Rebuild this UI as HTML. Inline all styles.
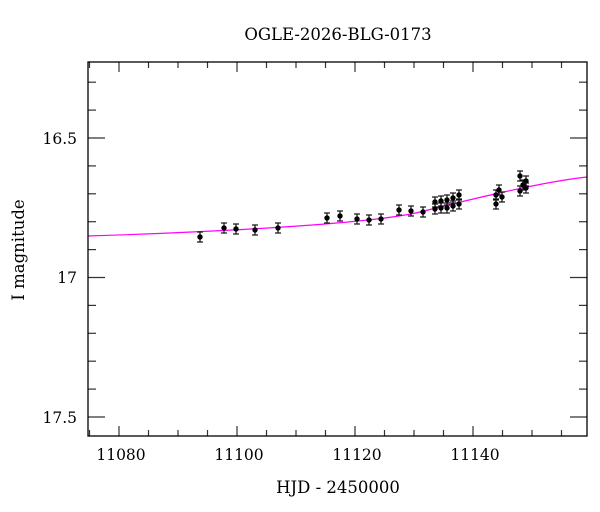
<!DOCTYPE html>
<html><head><style>body{margin:0;background:#fff}svg{display:block}text{font-family:"DejaVu Serif","Liberation Serif",serif;fill:#000}</style></head>
<body>
<svg width="600" height="512" xmlns="http://www.w3.org/2000/svg">
<text x="338" y="40" font-size="16.5" text-anchor="middle">OGLE-2026-BLG-0173</text>
<text x="338" y="493" font-size="16.5" text-anchor="middle">HJD - 2450000</text>
<text transform="translate(24,250) rotate(-90)" font-size="16.5" text-anchor="middle">I magnitude</text>
<g font-size="15.5" text-anchor="end">
<text x="77" y="144">16.5</text><text x="77" y="283">17</text><text x="77" y="423">17.5</text>
</g>
<g font-size="15.5" text-anchor="middle">
<text x="121" y="460">11080</text><text x="239" y="460">11100</text><text x="357" y="460">11120</text><text x="475" y="460">11140</text>
</g>
<g stroke="#333" stroke-width="1.2" id="ticks"></g>
<path d="M88,236 C250,231 380,222 420,212 S540,182 587,177" fill="none" stroke="#f0f" stroke-width="1.2"/>
<g id="pts" stroke="#111" stroke-width="1.2"></g>
<rect x="88" y="62" width="499" height="374" fill="none" stroke="#000" stroke-width="1.3"/>
<script>
var ns="http://www.w3.org/2000/svg",t=document.getElementById("ticks"),p=document.getElementById("pts");
function L(g,x1,y1,x2,y2){var l=document.createElementNS(ns,"line");l.setAttribute("x1",x1);l.setAttribute("y1",y1);l.setAttribute("x2",x2);l.setAttribute("y2",y2);g.appendChild(l);}
for(var d=11075;d<=11159;d+=5){var x=119+(d-11080)*5.9,len=(d%20==0)?10:6;L(t,x,436,x,436-len);L(t,x,62,x,62+len);}
for(var i=-2;i<=15;i++){var y=138+i*27.9;if(y<63||y>435)continue;var len=(i%5==0)?17:8;L(t,88,y,88+len,y);L(t,587,y,587-len,y);}
var P=[[200,237],[224,228],[236,229],[255,230],[278,228],[327,218],[340,216],[357,219],[369,220],[381,219],[399,210],[411,211],[423,212],[435,202],[435,209],[441,201],[441,208],[447,200],[447,208],[453,198],[453,206],[459,195],[459,204],[496,195],[496,204],[499,190],[502,197],[520,176],[520,191],[523,185],[526,181],[526,188]];
P.forEach(function(q){var x=q[0],y=q[1];L(p,x,y-5,x,y+5);L(p,x-3,y-5,x+3,y-5);L(p,x-3,y+5,x+3,y+5);var c=document.createElementNS(ns,"circle");c.setAttribute("cx",x);c.setAttribute("cy",y);c.setAttribute("r",2.7);c.setAttribute("fill","#000");c.setAttribute("stroke","none");p.appendChild(c);});
</script>
</svg>
</body></html>
